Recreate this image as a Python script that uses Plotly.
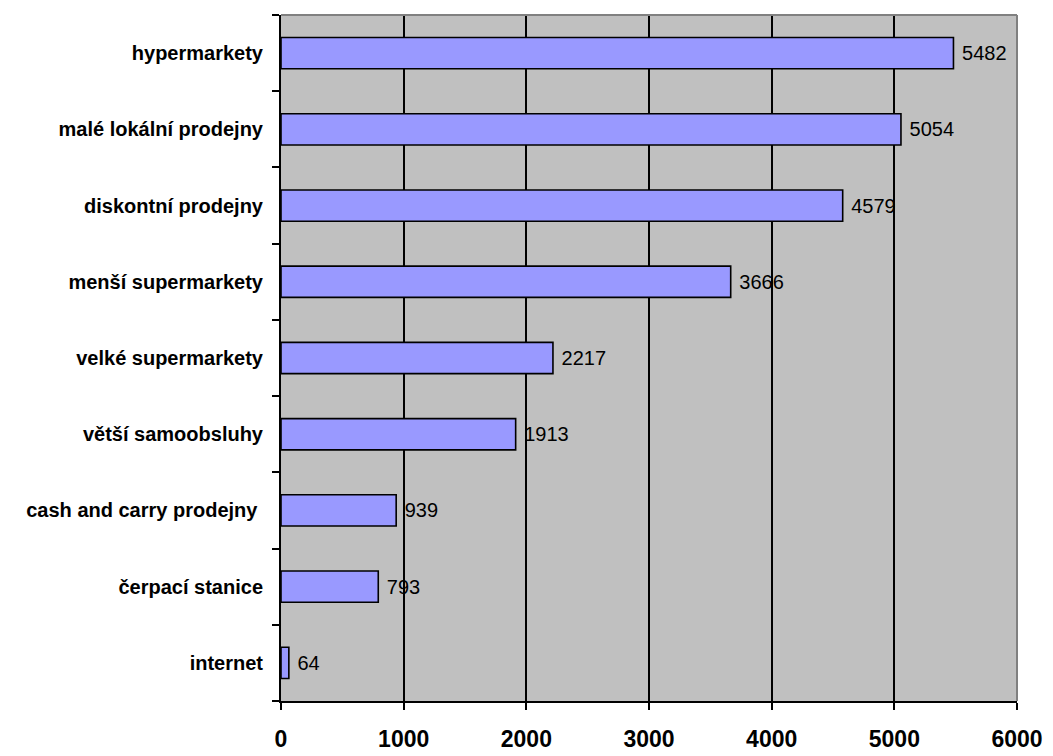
import plotly.graph_objects as go

# Store types and counts (bottom to top as drawn)
categories = [
    "internet",
    "čerpací stanice",
    "cash and carry prodejny ",
    "větší samoobsluhy",
    "velké supermarkety",
    "menší supermarkety",
    "diskontní prodejny",
    "malé lokální prodejny",
    "hypermarkety",
]
values = [64, 793, 939, 1913, 2217, 3666, 4579, 5054, 5482]
x_ticks = [0, 1000, 2000, 3000, 4000, 5000, 6000]

fig = go.Figure()
fig.add_trace(go.Bar(
    y=categories,
    x=values,
    orientation="h",
    marker=dict(color="#9999FF", line=dict(color="black", width=1.6)),
    text=[f" {v}" for v in values],
    textposition="outside",
    textfont=dict(family="Liberation Sans, Arial", size=20, color="black"),
    cliponaxis=False,
    width=0.41,
))

fig.update_layout(
    width=1053,
    height=756,
    margin=dict(l=281, r=36, t=15, b=55),
    paper_bgcolor="white",
    plot_bgcolor="#C0C0C0",
    showlegend=False,
    xaxis=dict(
        range=[0, 6000],
        tickvals=x_ticks,
        ticktext=[str(t) for t in x_ticks],
        automargin=False,
        showgrid=True,
        gridcolor="black",
        gridwidth=1.6,
        zeroline=False,
        showline=True,
        linecolor="black",
        linewidth=2,
        ticks="outside",
        ticklen=7,
        tickwidth=2,
        tickcolor="black",
        ticklabelstandoff=9,
        tickfont=dict(family="Liberation Sans, Arial", size=23, color="black", weight="bold"),
    ),
    yaxis=dict(
        categoryorder="array",
        categoryarray=categories,
        range=[-0.5, 8.5],
        automargin=False,
        showgrid=False,
        showline=True,
        linecolor="black",
        linewidth=2,
        ticks="outside",
        tickson="boundaries",
        ticklen=7,
        tickwidth=2,
        tickcolor="black",
        ticklabelstandoff=12,
        tickfont=dict(family="Liberation Sans, Arial", size=20, color="black", weight="bold"),
    ),
    shapes=[
        dict(type="line", xref="paper", yref="paper", x0=0, x1=1, y0=1, y1=1,
             line=dict(color="#808080", width=2)),
        dict(type="line", xref="paper", yref="paper", x0=1, x1=1, y0=0, y1=1,
             line=dict(color="#808080", width=2)),
    ],
)

fig.write_html("out.html")
